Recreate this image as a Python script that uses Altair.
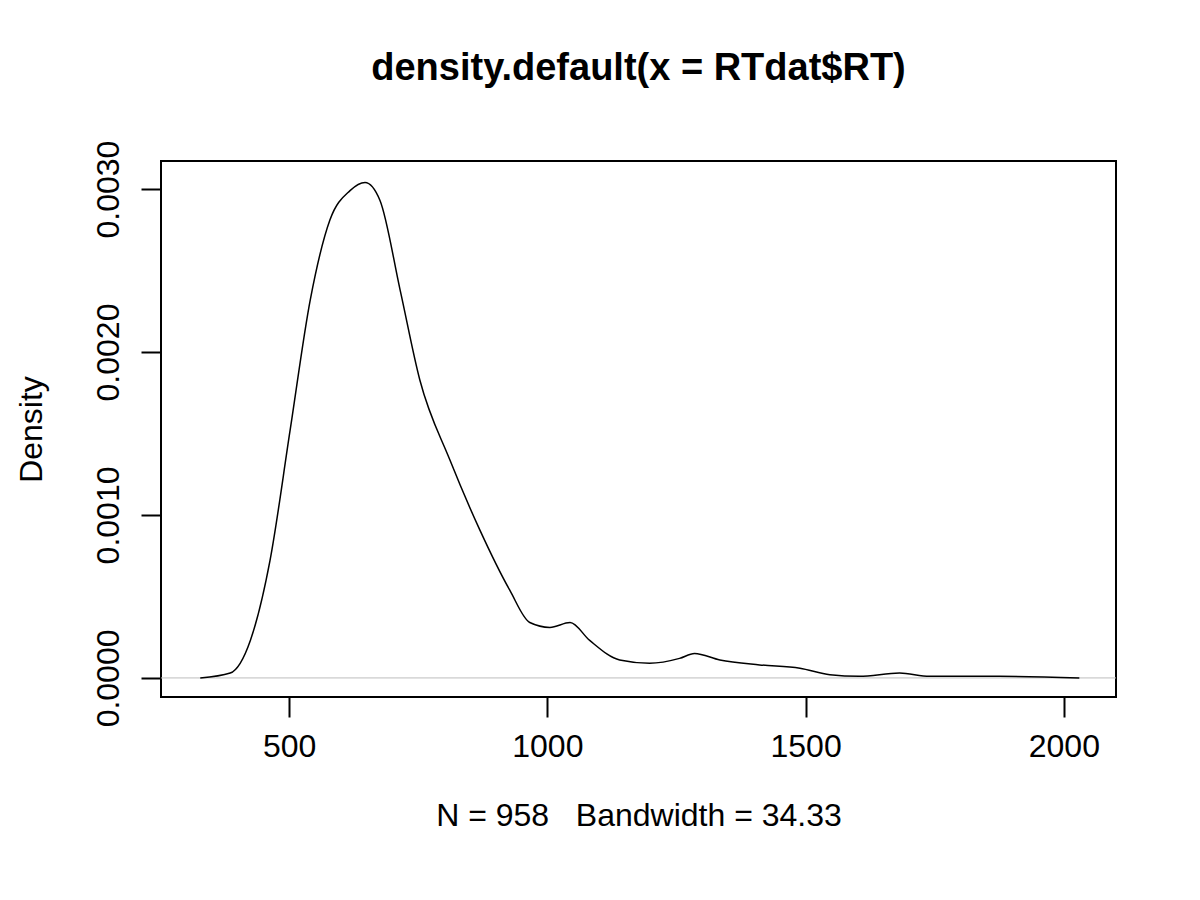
import pandas as pd
import altair as alt

rt = [328, 386, 425, 463, 502, 541, 579, 618, 647, 676, 715, 753, 811, 869, 927, 966,
      1005, 1044, 1082, 1140, 1198, 1256, 1285, 1334, 1411, 1489, 1547, 1604, 1682,
      1740, 1875, 2030]
density = [0.0, 0.00003, 0.00023, 0.00072, 0.00152, 0.00232, 0.00281, 0.00299, 0.00304,
           0.00293, 0.00238, 0.00183, 0.00134, 0.00091, 0.00054, 0.00034, 0.00031,
           0.00034, 0.00023, 0.00011, 0.00009, 0.00012, 0.00015, 0.00011, 0.00008,
           0.00006, 0.00002, 0.00001, 0.00003, 0.00001, 0.00001, 0.0]

df = pd.DataFrame({"RT": rt, "Density": density})
font = "Liberation Sans"

xs = alt.Scale(domain=[252, 2101], nice=False, zero=False)
ys = alt.Scale(domain=[-0.000117, 0.003172], nice=False, zero=False)

line = alt.Chart(df).mark_line(color="black", strokeWidth=1.5, interpolate="monotone").encode(
    x=alt.X("RT:Q", scale=xs, axis=alt.Axis(
        values=[500, 1000, 1500, 2000], format="d",
        title="N = 958\u00a0\u00a0\u00a0Bandwidth = 34.33",
        domain=False, grid=False, tickSize=20, tickColor="black", tickWidth=2,
        labelFontSize=32, labelPadding=14, labelColor="black", labelFont=font,
        titleFontSize=32, titleFontWeight="normal", titleFont=font, titleColor="black",
        titlePadding=38)),
    y=alt.Y("Density:Q", scale=ys, axis=alt.Axis(
        values=[0, 0.001, 0.002, 0.003], format=".4f", title="Density",
        domain=False, grid=False, tickSize=20, tickColor="black", tickWidth=2,
        labelAngle=270, labelAlign="center", labelBaseline="bottom",
        labelFontSize=32, labelPadding=16, labelColor="black", labelFont=font,
        titleFontSize=32, titleFontWeight="normal", titleFont=font, titleColor="black",
        titlePadding=44)),
)

base = alt.Chart(pd.DataFrame({"y": [0]})).mark_rule(color="#bebebe", strokeWidth=1).encode(
    y=alt.Y("y:Q", scale=ys)
)

chart = (base + line).properties(
    width=955, height=536,
    autosize=alt.AutoSizeParams(type="none"),
    padding={"left": 153, "top": 153, "right": 76, "bottom": 195},
    title=alt.TitleParams("density.default(x = RTdat$RT)", font=font, fontSize=38,
                          fontWeight="bold", color="black", offset=52, anchor="middle"),
).configure_view(stroke="black", strokeWidth=2)

chart.save("out.html", embed_options={"renderer": "svg", "actions": False})
